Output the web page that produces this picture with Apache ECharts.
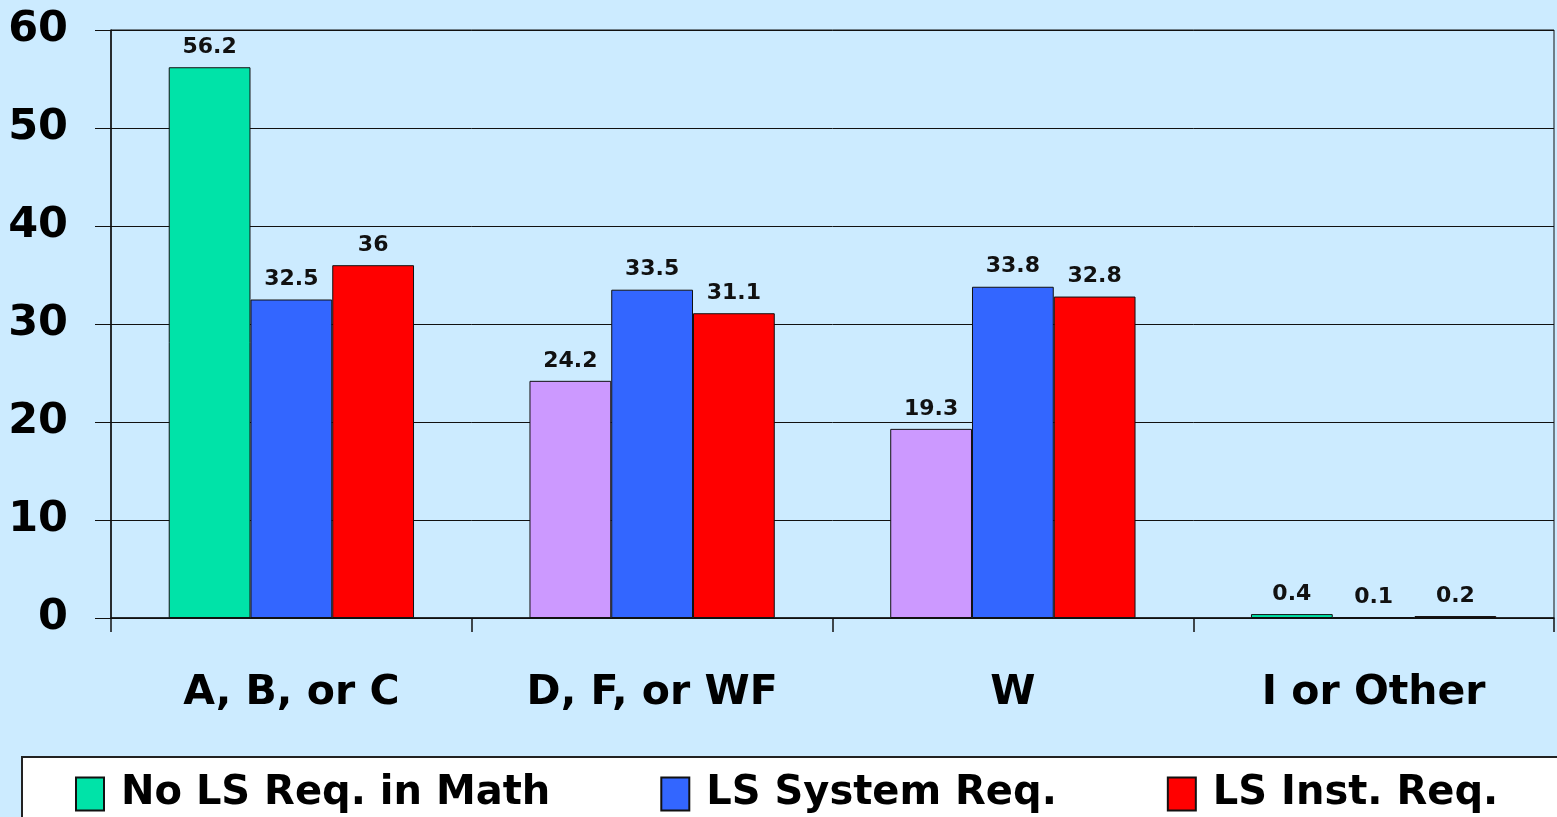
<!DOCTYPE html>
<html>
<head>
<meta charset="utf-8">
<script src="https://cdn.jsdelivr.net/npm/echarts@6/dist/echarts.min.js"></script>
<style>
html,body{margin:0;padding:0;background:#CCEBFF;}
#chart{width:1557px;height:817px;}
</style>
</head>
<body>
<div id="chart"></div>
<script>
const categories = ['A, B, or C', 'D, F, or WF', 'W', 'I or Other'];
const seriesNames = ['No LS Req. in Math', 'LS System Req.', 'LS Inst. Req.'];
const noLSValues = [56.2, 24.2, 19.3, 0.4];
const systemValues = [32.5, 33.5, 33.8, 0.1];
const instValues = [36, 31.1, 32.8, 0.2];
const yTicks = [0, 10, 20, 30, 40, 50, 60];

const GREEN = '#00E3A8', PURPLE = '#CC99FF', BLUE = '#3366FF', RED = '#FF0000';
const noLSColors = [GREEN, PURPLE, PURPLE, GREEN];
const FONT = 'DejaVu Sans';

const chart = echarts.init(document.getElementById('chart'));
const labelStyle = {show: true, position: 'top', distance: 9, color: '#111', fontFamily: FONT, fontWeight: 'bold', fontSize: 22};
const itemBorder = {borderColor: '#111', borderWidth: 1};

chart.setOption({
  backgroundColor: '#CCEBFF',
  animation: false,
  graphic: [{
    type: 'rect', z: -1, left: 21, top: 756,
    shape: {width: 1600, height: 100},
    style: {fill: '#fff', stroke: '#222', lineWidth: 2}
  }],
  grid: {left: 111, right: 3, top: 30, bottom: 199, show: true, borderColor: '#111', borderWidth: 1},
  legend: {
    data: seriesNames.map((n, i) => ({name: n, itemStyle: {color: [GREEN, BLUE, RED][i], borderColor: '#111', borderWidth: 2}})),
    left: 70, top: 769,
    itemWidth: 28, itemHeight: 33, itemGap: 110,
    icon: 'rect',
    textStyle: {fontFamily: FONT, fontWeight: 'bold', fontSize: 40, color: '#000', padding: [0, 0, 0, 12]}
  },
  xAxis: {
    type: 'category', data: categories,
    axisLine: {lineStyle: {color: '#111', width: 1.5}},
    axisTick: {show: true, length: 14, lineStyle: {color: '#111', width: 1.5}},
    axisLabel: {margin: 55, color: '#000', fontFamily: FONT, fontWeight: 'bold', fontSize: 41}
  },
  yAxis: {
    type: 'value', min: yTicks[0], max: yTicks[yTicks.length - 1], interval: 10,
    axisLine: {show: true, lineStyle: {color: '#111', width: 1.5}},
    axisTick: {show: true, length: 16, lineStyle: {color: '#111', width: 1}},
    splitLine: {lineStyle: {color: '#111', width: 1}},
    axisLabel: {margin: 43, color: '#000', fontFamily: FONT, fontWeight: 'bold', fontSize: 43}
  },
  series: [
    {name: seriesNames[0], type: 'bar', barGap: '0%', barCategoryGap: '32%',
     data: noLSValues.map((v, i) => ({value: v, itemStyle: {color: noLSColors[i]}})),
     itemStyle: Object.assign({color: GREEN}, itemBorder), label: labelStyle},
    {name: seriesNames[1], type: 'bar', barGap: '0%', barCategoryGap: '32%',
     data: systemValues, itemStyle: Object.assign({color: BLUE}, itemBorder), label: labelStyle},
    {name: seriesNames[2], type: 'bar', barGap: '0%', barCategoryGap: '32%',
     data: instValues, itemStyle: Object.assign({color: RED}, itemBorder), label: labelStyle}
  ]
});
</script>
</body>
</html>
